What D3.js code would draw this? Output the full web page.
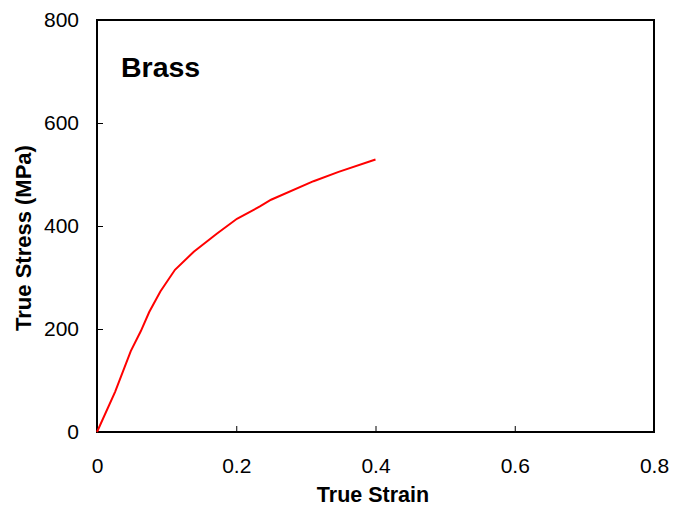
<!DOCTYPE html>
<html>
<head>
<meta charset="utf-8">
<script src="https://cdn.jsdelivr.net/npm/d3@7"></script>
<style>
  body { margin: 0; background: #fff; }
  text { font-family: "Liberation Sans", Arial, sans-serif; }
</style>
</head>
<body>
<div id="chart"></div>
<script>
// values
var strain = [0, 0.026, 0.0485, 0.063, 0.075, 0.091, 0.112, 0.139, 0.172, 0.201, 0.234, 0.25, 0.311, 0.347, 0.40];
var stress = [0, 78, 157, 196, 233, 273, 315, 350, 385, 414, 438, 451, 487, 505, 529];
var xTicks = [0, 0.2, 0.4, 0.6, 0.8];
var yTicks = [0, 200, 400, 600, 800];

var width = 674, height = 508;
var margin = { top: 20, right: 20, bottom: 76, left: 97 };

var x = d3.scaleLinear().domain([0, 0.8]).range([margin.left, width - margin.right]);
var y = d3.scaleLinear().domain([0, 800]).range([height - margin.bottom, margin.top]);

var svg = d3.select("#chart").append("svg")
  .attr("width", width)
  .attr("height", height);

// x axis (ticks inward)
var xAxis = svg.append("g")
  .attr("transform", "translate(0," + y(0) + ")")
  .call(d3.axisBottom(x).tickValues(xTicks).tickSize(-6).tickPadding(26)
    .tickFormat(function (d) { return d === 0 ? "0" : d3.format(".1f")(d); }));
xAxis.select(".domain").remove();
xAxis.selectAll("line").attr("stroke", "#000").attr("stroke-width", 1);
xAxis.selectAll("text").attr("font-size", 21).attr("fill", "#000").attr("font-family", "Liberation Sans, Arial, sans-serif");

// y axis
var yAxis = svg.append("g")
  .attr("transform", "translate(" + x(0) + ",0)")
  .call(d3.axisLeft(y).tickValues(yTicks).tickSize(-6).tickPadding(18));
yAxis.select(".domain").remove();
yAxis.selectAll("line").attr("stroke", "#000").attr("stroke-width", 1);
yAxis.selectAll("text").attr("font-size", 21).attr("fill", "#000").attr("font-family", "Liberation Sans, Arial, sans-serif");

// frame
svg.append("rect")
  .attr("x", x(0))
  .attr("y", y(800))
  .attr("width", x(0.8) - x(0))
  .attr("height", y(0) - y(800))
  .attr("fill", "none")
  .attr("stroke", "#000")
  .attr("stroke-width", 2);

// curve
var pts = strain.map(function (s, i) { return [s, stress[i]]; });
svg.append("path")
  .datum(pts)
  .attr("fill", "none")
  .attr("stroke", "#ff0000")
  .attr("stroke-width", 2)
  .attr("d", d3.line().x(function (d) { return x(d[0]); }).y(function (d) { return y(d[1]); }));

// labels
svg.append("text")
  .attr("x", 121)
  .attr("y", 77)
  .attr("font-size", 28.5)
  .attr("font-weight", "bold")
  .text("Brass");

svg.append("text")
  .attr("x", 373)
  .attr("y", 502)
  .attr("text-anchor", "middle")
  .attr("font-size", 21.5)
  .attr("font-weight", "bold")
  .text("True Strain");

svg.append("text")
  .attr("transform", "translate(31,238) rotate(-90)")
  .attr("text-anchor", "middle")
  .attr("font-size", 22)
  .attr("font-weight", "bold")
  .text("True Stress (MPa)");
</script>
</body>
</html>
